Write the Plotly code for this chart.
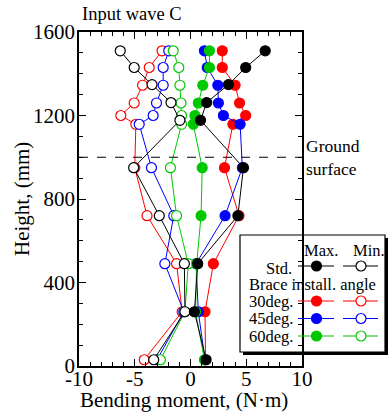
import plotly.graph_objects as go

# Measurement heights (mm)
heights_brace = [1510, 1430, 1345, 1260, 1200, 1158, 950, 720, 490, 260, 30]
heights_std = [1510, 1430, 1348, 1262, 1177, 950, 720, 490, 260, 30]

# Bending moment (N·m): maximum and minimum envelopes
std_max = [6.7, 4.95, 3.4, 1.45, 0.9, 4.75, 4.25, 0.65, 0.35, 1.4]
std_min = [-6.3, -5.05, -3.45, -1.75, -0.95, -5.1, -2.8, -0.55, -0.5, -3.3]

deg30_max = [2.85, 2.85, 4.0, 4.4, 4.95, 3.8, 3.05, 4.35, 2.05, 1.3, 1.35]
deg30_min = [-2.55, -3.7, -4.3, -5.05, -6.25, -4.9, -5.0, -3.9, -1.25, -0.75, -4.15]

deg45_max = [1.25, 1.5, 2.45, 2.5, 2.95, 4.45, 4.65, 3.1, 0.5, 0.7, 1.3]
deg45_min = [-1.95, -2.45, -2.45, -3.05, -3.35, -4.6, -3.5, -1.5, -2.3, -0.6, -3.0]

deg60_max = [1.7, 1.7, 1.1, 0.7, 0.4, 0.25, 1.05, 0.95, 0.55, 0.45, 1.25]
deg60_min = [-1.55, -1.05, -0.95, -0.85, -0.8, -0.8, -1.8, -1.25, -0.2, -0.5, -2.7]

x_ticks = [-10, -5, 0, 5, 10]
y_ticks = [0, 400, 800, 1200, 1600]

RED = "#ff0000"
BLUE = "#0000ff"
GREEN = "#00c800"
BLACK = "#000000"
FONT = "Liberation Serif, Times New Roman, serif"

W, H = 390, 414


def px_x(p):
    return p / W


def px_y(p):
    return 1 - p / H


fig = go.Figure()


def add_series(x, y, color, filled):
    fig.add_trace(go.Scatter(
        x=x, y=y, mode="lines+markers",
        line=dict(color=color, width=1),
        marker=dict(size=10, color=color if filled else "white",
                    line=dict(color=color, width=1.2)),
        showlegend=False, hoverinfo="skip",
    ))


series = [
    (deg30_max, deg30_min, heights_brace, RED),
    (deg45_max, deg45_min, heights_brace, BLUE),
    (deg60_max, deg60_min, heights_brace, GREEN),
    (std_max, std_min, heights_std, BLACK),
]
for mx, mn, hts, col in series:
    add_series(mn, hts, col, False)
    add_series(mx, hts, col, True)

# Legend panel drawn on its own small axis (pixel-like units)
leg_rows = [("Std.", BLACK, 266), ("30deg.", RED, 301), ("45deg.", BLUE, 318.5), ("60deg.", GREEN, 336)]
for label, col, yy in leg_rows:
    fig.add_trace(go.Scatter(
        x=[298, 316.5, 334], y=[yy, yy, yy], mode="lines", xaxis="x2", yaxis="y2",
        line=dict(color=col, width=1.2), showlegend=False, hoverinfo="skip"))
    fig.add_trace(go.Scatter(
        x=[316.5], y=[yy], mode="markers", xaxis="x2", yaxis="y2",
        marker=dict(size=10, color=col, line=dict(color=col, width=1.2)),
        showlegend=False, hoverinfo="skip"))
    fig.add_trace(go.Scatter(
        x=[343, 378], y=[yy, yy], mode="lines", xaxis="x2", yaxis="y2",
        line=dict(color=col, width=1.2), showlegend=False, hoverinfo="skip"))
    fig.add_trace(go.Scatter(
        x=[361], y=[yy], mode="markers", xaxis="x2", yaxis="y2",
        marker=dict(size=10, color="white", line=dict(color=col, width=1.2)),
        showlegend=False, hoverinfo="skip"))

LEG_SIZE = 16.5
annotations = [
    dict(text="Input wave C", x=px_x(80), y=px_y(14), xref="paper", yref="paper",
         xanchor="left", yanchor="middle", showarrow=False,
         font=dict(family=FONT, size=18.5, color="black")),
    dict(text="Ground<br>surface", x=px_x(304), y=px_y(157), xref="paper", yref="paper",
         xanchor="left", yanchor="middle", align="left", showarrow=False,
         font=dict(family=FONT, size=17.5, color="black")),
    # axis titles
    dict(text="Bending moment, (N·m)", x=px_x(184), y=px_y(400), xref="paper", yref="paper",
         xanchor="center", yanchor="middle", showarrow=False,
         font=dict(family=FONT, size=21, color="black")),
    dict(text="Height, (mm)", x=px_x(22), y=px_y(199), xref="paper", yref="paper",
         xanchor="center", yanchor="middle", showarrow=False, textangle=-90,
         font=dict(family=FONT, size=21, color="black")),
    dict(text="Max.", x=321, y=250, xref="x2", yref="y2", showarrow=False,
         xanchor="center", yanchor="middle", font=dict(family=FONT, size=LEG_SIZE, color="black")),
    dict(text="Min.", x=369, y=250, xref="x2", yref="y2", showarrow=False,
         xanchor="center", yanchor="middle", font=dict(family=FONT, size=LEG_SIZE, color="black")),
    dict(text="Std.", x=294, y=268, xref="x2", yref="y2", showarrow=False,
         xanchor="right", yanchor="middle", font=dict(family=FONT, size=LEG_SIZE, color="black")),
    dict(text="Brace install. angle", x=247, y=284, xref="x2", yref="y2", showarrow=False,
         xanchor="left", yanchor="middle", font=dict(family=FONT, size=LEG_SIZE, color="black")),
]
for label, col, yy in leg_rows[1:]:
    annotations.append(dict(text=label, x=247, y=yy, xref="x2", yref="y2", showarrow=False,
                            xanchor="left", yanchor="middle",
                            font=dict(family=FONT, size=LEG_SIZE, color="black")))

shapes = [
    # ground surface level
    dict(type="line", xref="x domain", yref="y", x0=0, x1=1, y0=1000, y1=1000,
         line=dict(color="black", width=1.2, dash="dash")),
    # legend frame with drop shadow
    dict(type="rect", xref="paper", yref="paper", layer="below",
         x0=px_x(243), x1=px_x(388), y0=px_y(355), y1=px_y(238),
         fillcolor="black", line=dict(width=0)),
    dict(type="rect", xref="paper", yref="paper", layer="below",
         x0=px_x(240), x1=px_x(385), y0=px_y(352), y1=px_y(235),
         fillcolor="white", line=dict(color="black", width=1.2)),
]

axis_font = dict(family=FONT, size=21, color="black")

fig.update_layout(
    width=W, height=H,
    margin=dict(l=0, r=0, t=0, b=0),
    paper_bgcolor="white",
    plot_bgcolor="rgba(0,0,0,0)",
    font=dict(family=FONT, color="black"),
    xaxis=dict(
        domain=[px_x(79), px_x(302)], range=[-10, 10],
        tickvals=x_ticks, ticktext=[str(v) for v in x_ticks],
        ticks="inside", ticklen=7, tickwidth=1.2, tickcolor="black",
        minor=dict(dtick=1, ticks="inside", ticklen=4, tickwidth=1, tickcolor="black"),
        showline=True, linewidth=1.5, linecolor="black", mirror="ticks",
        showgrid=False, zeroline=False, tickfont=axis_font,
        ticklabelstandoff=-7,
        automargin=False,
    ),
    yaxis=dict(
        domain=[px_y(366), px_y(32)], range=[0, 1600],
        tickvals=y_ticks, ticktext=[str(v) for v in y_ticks],
        ticks="inside", ticklen=7, tickwidth=1.2, tickcolor="black",
        minor=dict(dtick=100, ticks="inside", ticklen=4, tickwidth=1, tickcolor="black"),
        showline=True, linewidth=1.5, linecolor="black", mirror="ticks",
        showgrid=False, zeroline=False, tickfont=axis_font,
        ticklabelstandoff=-2,
        automargin=False,
    ),
    xaxis2=dict(domain=[px_x(240), px_x(385)], range=[240, 385], visible=False,
                fixedrange=True),
    yaxis2=dict(domain=[px_y(352), px_y(235)], range=[352, 235], visible=False,
                fixedrange=True),
    annotations=annotations,
    shapes=shapes,
)

fig.write_html("out.html")
